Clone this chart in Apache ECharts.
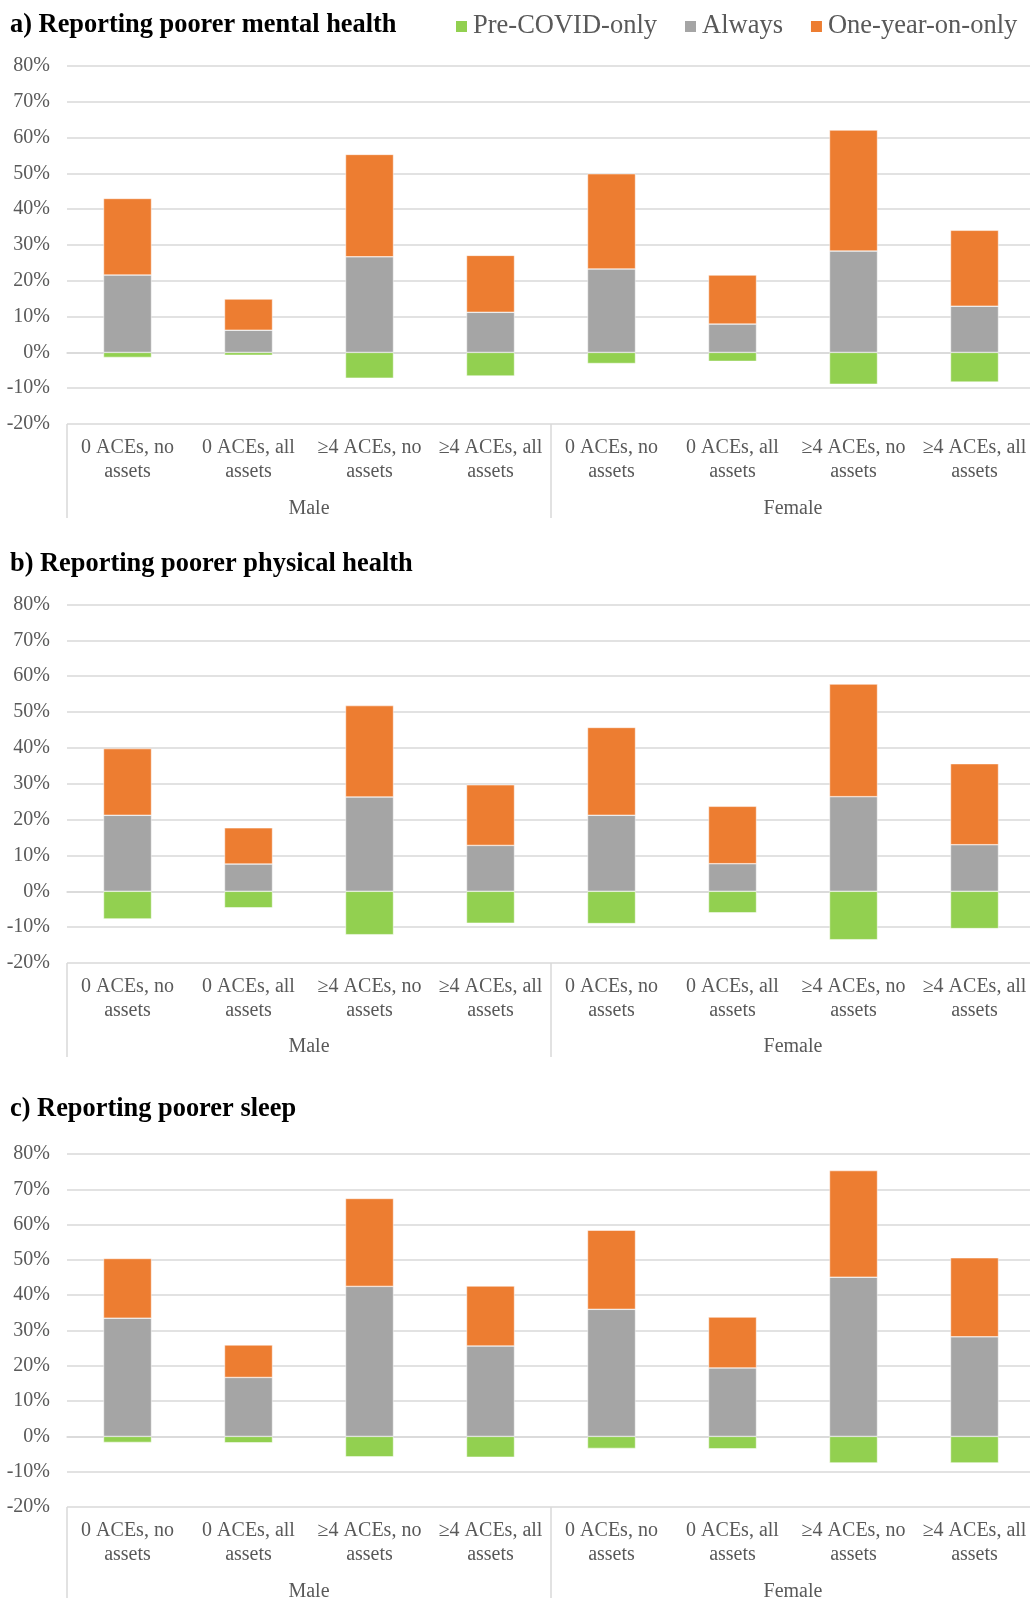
<!DOCTYPE html>
<html>
<head>
<meta charset="utf-8">
<title>Poorer health by ACEs and assets</title>
<script src="https://cdn.jsdelivr.net/npm/echarts@6/dist/echarts.min.js"></script>
<style>
  html, body { margin: 0; padding: 0; background: #fff; }
  #chart { width: 1030px; height: 1598px; }
</style>
</head>
<body>
<div id="chart"></div>
<script>
// categories (two lines each, like the Excel original)
const categories = [
  '0 ACEs, no\nassets', '0 ACEs, all\nassets', '\u22654 ACEs, no\nassets', '\u22654 ACEs, all\nassets',
  '0 ACEs, no\nassets', '0 ACEs, all\nassets', '\u22654 ACEs, no\nassets', '\u22654 ACEs, all\nassets'
];
const groups = ['Male', 'Female'];
const seriesNames = ['Pre-COVID-only', 'Always', 'One-year-on-only'];
const panelTitles = [
  'a) Reporting poorer mental health',
  'b) Reporting poorer physical health',
  'c) Reporting poorer sleep'
];

// values in %, Male x4 then Female x4
const mentalPre     = [-1.4, -0.8, -7.2, -6.6, -3.1, -2.5, -8.9, -8.3];
const mentalAlways  = [21.6, 6.2, 26.7, 11.2, 23.3, 7.9, 28.3, 12.9];
const mentalOneYear = [21.4, 8.7, 28.6, 15.9, 26.6, 13.7, 33.8, 21.2];

const physicalPre     = [-7.7, -4.6, -12.1, -8.9, -9.0, -6.0, -13.5, -10.4];
const physicalAlways  = [21.2, 7.6, 26.3, 12.8, 21.2, 7.7, 26.4, 13.0];
const physicalOneYear = [18.6, 10.1, 25.5, 16.9, 24.5, 16.0, 31.4, 22.6];

const sleepPre     = [-1.7, -1.8, -5.8, -5.9, -3.4, -3.5, -7.5, -7.5];
const sleepAlways  = [33.5, 16.7, 42.5, 25.6, 36.0, 19.4, 45.1, 28.2];
const sleepOneYear = [16.9, 9.2, 24.9, 17.0, 22.4, 14.4, 30.2, 22.4];

const yTicks = { min: -20, max: 80, interval: 10 };

const panels = [
  [mentalPre, mentalAlways, mentalOneYear],
  [physicalPre, physicalAlways, physicalOneYear],
  [sleepPre, sleepAlways, sleepOneYear]
];

const FONT = "'Liberation Serif', 'Times New Roman', serif";
const TXT = '#595959';
const LINE = '#d9d9d9';
const colors = ['#92d050', '#a5a5a5', '#ed7d31'];

// layout of the three panels (top, height, group label margin, divider length)
const layout = [
  { top: 66, height: 358, titleTop: 12, groupMargin: 72.5, tick: 94 },
  { top: 604.5, height: 358.5, titleTop: 551, groupMargin: 71.5, tick: 94 },
  { top: 1154, height: 353, titleTop: 1096, groupMargin: 72.5, tick: 95 }
];

const chart = echarts.init(document.getElementById('chart'));

const grid = [], xAxis = [], yAxis = [], series = [], title = [];
layout.forEach((l, k) => {
  title.push({
    text: panelTitles[k], left: 10, top: l.titleTop, padding: 0,
    textStyle: { fontFamily: FONT, fontSize: 26.4, fontWeight: 'bold', color: '#000' }
  });
  // plot runs a little past the right edge of the page, as in the original
  grid.push({ left: 67, width: 968, top: l.top, height: l.height, outerBoundsMode: 'none', containLabel: false });
  xAxis.push({
    type: 'category', gridIndex: k, data: categories, position: 'bottom',
    axisLine: { show: true, lineStyle: { color: LINE, width: 1.5 } },
    axisTick: { show: false },
    axisLabel: { interval: 0, color: TXT, fontFamily: FONT, fontSize: 20, lineHeight: 24, margin: 12 }
  });
  xAxis.push({
    type: 'category', gridIndex: k, data: groups, position: 'bottom',
    axisLine: { show: false },
    axisTick: { show: true, length: l.tick, lineStyle: { color: LINE, width: 1.5 } },
    axisLabel: { color: TXT, fontFamily: FONT, fontSize: 20, lineHeight: 24, margin: l.groupMargin }
  });
  yAxis.push({
    type: 'value', gridIndex: k, min: yTicks.min, max: yTicks.max, interval: yTicks.interval,
    axisLine: { show: false }, axisTick: { show: false },
    axisLabel: { formatter: '{value}%', color: TXT, fontFamily: FONT, fontSize: 20, margin: 17 },
    splitLine: { lineStyle: { color: LINE, width: 1.5 } }
  });
  panels[k].forEach((vals, i) => {
    series.push({
      name: seriesNames[i], type: 'bar', stack: 'p' + k,
      xAxisIndex: 2 * k, yAxisIndex: k, barWidth: 48,
      itemStyle: { color: colors[i], borderColor: '#fff', borderWidth: 0.5 },
      data: vals
    });
  });
});

chart.setOption({
  animation: false,
  color: colors,
  title: title,
  legend: {
    data: seriesNames, left: 454, top: 13, padding: 0,
    icon: 'rect', itemWidth: 13, itemHeight: 13, itemGap: 26,
    textStyle: { fontFamily: FONT, fontSize: 26.5, color: TXT }
  },
  grid: grid,
  xAxis: xAxis,
  yAxis: yAxis,
  series: series
});
</script>
</body>
</html>
